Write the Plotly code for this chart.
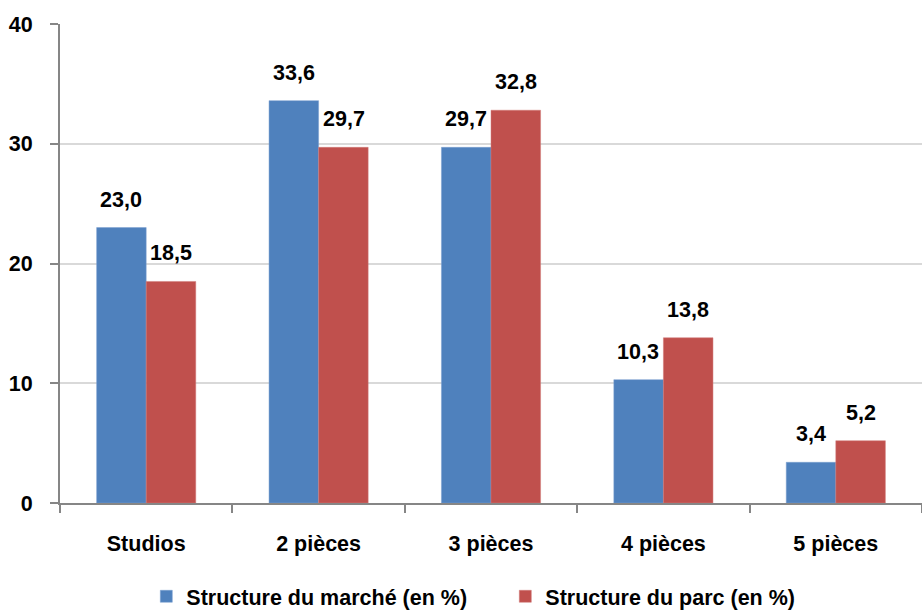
import plotly.graph_objects as go

categories = ["Studios", "2 pièces", "3 pièces", "4 pièces", "5 pièces"]
marche = [23.0, 33.6, 29.7, 10.3, 3.4]
parc = [18.5, 29.7, 32.8, 13.8, 5.2]
series_names = ["Structure du marché (en %)", "Structure du parc (en %)"]
y_ticks = [0, 10, 20, 30, 40]

FONT = "Liberation Sans, Arial, sans-serif"
BLUE = "#4F81BD"
RED = "#C0504D"
FS = 21.5

fig = go.Figure()
fig.add_trace(go.Bar(x=categories, y=marche, name=series_names[0], marker_color=BLUE,
                     marker_line=dict(color="#7a9fd0", width=0.5)))
fig.add_trace(go.Bar(x=categories, y=parc, name=series_names[1], marker_color=RED,
                     marker_line=dict(color="#d07a78", width=0.5)))

def fmt(v):
    return f"{v:.1f}".replace(".", ",")

annotations = []
for cat, a, b in zip(categories, marche, parc):
    for val, shift in ((a, -25), (b, 25)):
        annotations.append(dict(x=cat, y=val, xref="x", yref="y", text=fmt(val),
                                showarrow=False, xshift=shift, yanchor="bottom", yshift=14,
                                font=dict(family=FONT, size=FS, color="black", weight=700)))

fig.update_layout(
    width=922, height=612,
    margin=dict(l=60, r=0, t=24, b=109, autoexpand=False),
    paper_bgcolor="white", plot_bgcolor="white",
    barmode="group", bargap=0.425, bargroupgap=0,
    font=dict(family=FONT, size=FS, color="black", weight=700),
    annotations=annotations,
    legend=dict(orientation="h", x=0.5166, xanchor="center", y=-0.152, yanchor="top",
                font=dict(family=FONT, size=FS, color="black", weight=700),
                itemwidth=30, entrywidth=314, traceorder="normal"),
    showlegend=True,
)
fig.update_xaxes(showline=True, linecolor="#868686", linewidth=2, ticks="outside",
                 tickson="boundaries", ticklen=8, tickcolor="#868686", tickwidth=1.5,
                 showgrid=False, automargin=False, ticklabelstandoff=20,
                 tickfont=dict(family=FONT, size=FS, color="black", weight=700))
fig.update_yaxes(range=[0, 40], tickvals=y_ticks, showline=True, linecolor="#868686",
                 linewidth=2, ticks="outside", ticklen=8, tickcolor="#868686", tickwidth=1.5,
                 showgrid=True, gridcolor="#D9D9D9", gridwidth=2, zeroline=False,
                 automargin=False, ticklabelstandoff=13,
                 tickfont=dict(family=FONT, size=FS, color="black", weight=700))

fig.write_html("out.html", config={"displayModeBar": False},
               post_script="document.body.style.margin='0';document.body.style.overflow='hidden';")
